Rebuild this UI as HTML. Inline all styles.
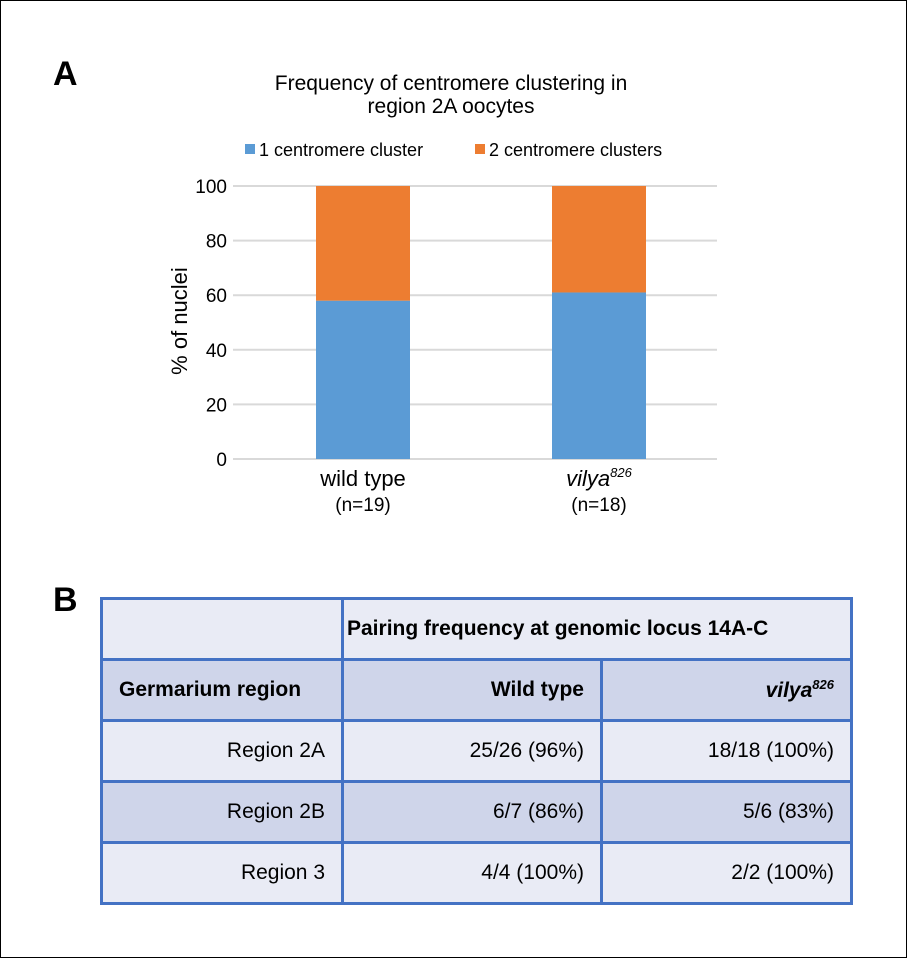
<!DOCTYPE html>
<html><head><meta charset="utf-8"><style>
body{margin:0;background:#fff;font-family:"Liberation Sans",sans-serif;}
#wrap{position:relative;width:905px;height:956px;border:1px solid #000;overflow:hidden}
.lbl{position:absolute;font-weight:bold;font-size:34px}
table{position:absolute;left:99px;top:596px;border-collapse:collapse;font-size:21px;table-layout:fixed;width:750px}
td{border:3px solid #4472c4;text-align:right;padding:0 16px 0 8px;height:58px}
.l{background:#e9ebf5}.d{background:#cfd5ea}
</style></head><body>
<div id="wrap">
<div class="lbl" style="left:52px;top:54px">A</div>
<div class="lbl" style="left:52px;top:580px">B</div>
<svg width="905" height="560" style="position:absolute;left:0;top:0">
<g id="chart"></g></svg>
<table>
<colgroup><col style="width:241px"><col style="width:259px"><col style="width:250px"></colgroup>
<tr><td class="l"></td><td class="l" colspan="2" style="font-weight:bold;text-align:left;padding-left:3px">Pairing frequency at genomic locus 14A-C</td></tr>
<tr><td class="d" style="font-weight:bold;text-align:left;padding-left:16px">Germarium region</td><td class="d" style="font-weight:bold">Wild type</td><td class="d" style="font-weight:bold;font-style:italic">vilya<sup style="font-size:13px">826</sup></td></tr>
<tr><td class="l">Region 2A</td><td class="l">25/26 (96%)</td><td class="l">18/18 (100%)</td></tr>
<tr><td class="d">Region 2B</td><td class="d">6/7 (86%)</td><td class="d">5/6 (83%)</td></tr>
<tr><td class="l">Region 3</td><td class="l">4/4 (100%)</td><td class="l">2/2 (100%)</td></tr>
</table>
</div>
<script>
const categories=["wild type","vilya"];
const nLabels=["(n=19)","(n=18)"];
const oneCluster=[58,61];
const twoClusters=[42,39];
const ticks=[0,20,40,60,80,100];
const NS="http://www.w3.org/2000/svg";
const g=document.getElementById('chart');
const y=v=>458-v*2.73;
const xc=i=>362+i*236;
function el(t,a,txt){const e=document.createElementNS(NS,t);for(const k in a)e.setAttribute(k,a[k]);if(txt!==undefined)e.textContent=txt;g.appendChild(e);return e;}
ticks.forEach(t=>{
 const l=el('line',{x1:232,x2:716,y1:y(t),y2:y(t),stroke:'#d9d9d9','stroke-width':2});
 
 
 const tx=el('text',{x:226,y:y(t)+7,'text-anchor':'end','font-size':19,fill:'#000'},t);
 
 
});
categories.forEach((c,i)=>{
 const b1=el('rect',{x:xc(i)-47,width:94,y:y(oneCluster[i]),height:y(0)-y(oneCluster[i]),fill:'#5b9bd5'});
 
 
 const b2=el('rect',{x:xc(i)-47,width:94,y:y(oneCluster[i]+twoClusters[i]),height:y(oneCluster[i])-y(oneCluster[i]+twoClusters[i]),fill:'#ed7d31'});
 
 
 const t=el('text',{x:xc(i),y:485,'text-anchor':'middle','font-size':22});
 if(i==1){t.setAttribute('font-style','italic');t.innerHTML='vilya<tspan dy="-9" font-size="13">826</tspan>';}else t.textContent=c;
 
 
 const n=el('text',{x:xc(i),y:510,'text-anchor':'middle','font-size':19},nLabels[i]);
 
 
});
const yt=el('text',{x:0,y:0,'text-anchor':'middle','font-size':22,transform:'translate(186,320) rotate(-90)'},'% of nuclei');


const t1=el('text',{x:450,y:89,'text-anchor':'middle','font-size':21},'Frequency of centromere clustering in');


const t2=el('text',{x:450,y:112,'text-anchor':'middle','font-size':21},'region 2A oocytes');


const lg1=el('rect',{x:244,y:143,width:10,height:10,fill:'#5b9bd5'});


const lt1=el('text',{x:258,y:155,'font-size':18},'1 centromere cluster');


const lg2=el('rect',{x:474,y:143,width:10,height:10,fill:'#ed7d31'});


const lt2=el('text',{x:488,y:155,'font-size':18},'2 centromere clusters');


</script>
</body></html>
